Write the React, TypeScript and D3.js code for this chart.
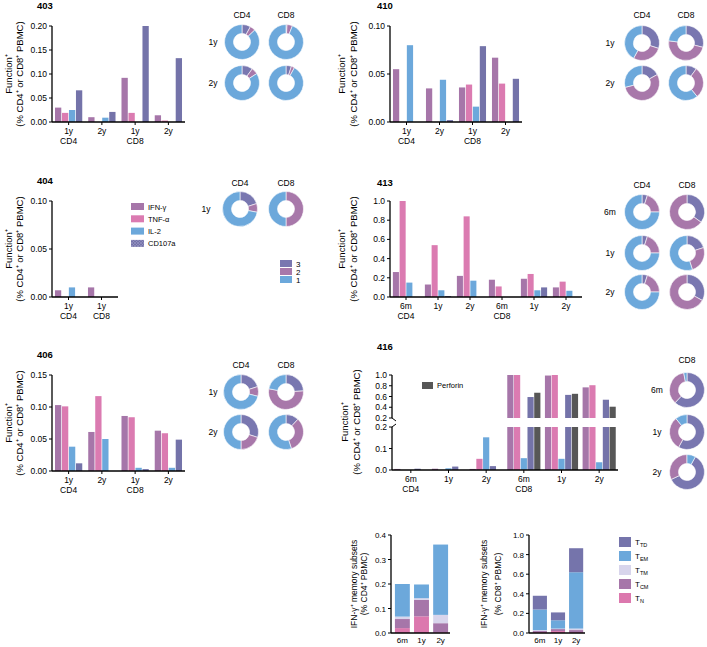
import React from 'react';
import * as d3 from 'd3';

const FONT = '"Liberation Sans", Arial, Helvetica, sans-serif';

// bar series
const seriesNames = ['IFN-γ', 'TNF-α', 'IL-2', 'CD107a'];
const seriesColors = ['#a676a9', '#db7bb1', '#6ca8db', '#7473a9'];
const perforinName = 'Perforin';
const perforinColor = '#575757';

// donut slices (number of functions)
const funcNames = ['3', '2', '1'];
const funcColors = ['#7977b0', '#a878aa', '#6ca8db'];

// patient 403
const p403Times = ['1y', '2y', '1y', '2y'];
const p403Cells = ['CD4', '', 'CD8', ''];
const p403Values = [
  [0.030, 0.019, 0.025, 0.066],
  [0.010, 0.000, 0.009, 0.021],
  [0.092, 0.019, 0.000, 0.200],
  [0.014, 0.003, 0.000, 0.133],
];
const p403PieRows = ['1y', '2y'];
const p403Pies = [
  [[0.08, 0.05, 0.87], [0.01, 0.05, 0.94]],
  [[0.10, 0.06, 0.84], [0.05, 0.03, 0.92]],
];

// patient 410
const p410Times = ['1y', '2y', '1y', '2y'];
const p410Cells = ['CD4', '', 'CD8', ''];
const p410Values = [
  [0.055, 0.000, 0.080, 0.000],
  [0.035, 0.000, 0.044, 0.002],
  [0.036, 0.039, 0.016, 0.079],
  [0.067, 0.040, 0.000, 0.045],
];
const p410PieRows = ['1y', '2y'];
const p410Pies = [
  [[0.30, 0.28, 0.42], [0.29, 0.48, 0.23]],
  [[0.17, 0.54, 0.29], [0.10, 0.29, 0.61]],
];

// patient 404
const p404Times = ['1y', '1y'];
const p404Cells = ['CD4', 'CD8'];
const p404Values = [
  [0.007, 0.000, 0.010, 0.000],
  [0.010, 0.000, 0.000, 0.000],
];
const p404PieRows = ['1y'];
const p404Pies = [[[0.20, 0.08, 0.72], [0.00, 0.50, 0.50]]];

// patient 413
const p413Times = ['6m', '1y', '2y', '6m', '1y', '2y'];
const p413Cells = ['CD4', '', '', 'CD8', '', ''];
const p413Values = [
  [0.26, 1.00, 0.15, 0.00],
  [0.13, 0.54, 0.07, 0.01],
  [0.22, 0.84, 0.17, 0.00],
  [0.18, 0.11, 0.00, 0.00],
  [0.19, 0.24, 0.07, 0.10],
  [0.10, 0.16, 0.065, 0.00],
];
const p413PieRows = ['6m', '1y', '2y'];
const p413Pies = [
  [[0.05, 0.20, 0.75], [0.35, 0.65, 0.00]],
  [[0.05, 0.20, 0.75], [0.20, 0.25, 0.55]],
  [[0.05, 0.20, 0.75], [0.33, 0.67, 0.00]],
];

// patient 406
const p406Times = ['1y', '2y', '1y', '2y'];
const p406Cells = ['CD4', '', 'CD8', ''];
const p406Values = [
  [0.103, 0.101, 0.038, 0.012],
  [0.061, 0.117, 0.050, 0.000],
  [0.086, 0.084, 0.005, 0.003],
  [0.063, 0.059, 0.005, 0.049],
];
const p406PieRows = ['1y', '2y'];
const p406Pies = [
  [[0.20, 0.09, 0.71], [0.24, 0.54, 0.22]],
  [[0.30, 0.20, 0.50], [0.12, 0.33, 0.55]],
];

// patient 416 (with perforin)
const p416Times = ['6m', '1y', '2y', '6m', '1y', '2y'];
const p416Cells = ['CD4', '', '', 'CD8', '', ''];
const p416Values = [
  [0.005, 0.000, 0.000, 0.006, 0.000],
  [0.006, 0.000, 0.008, 0.016, 0.000],
  [0.005, 0.052, 0.152, 0.018, 0.000],
  [1.000, 1.000, 0.055, 0.590, 0.670],
  [0.990, 1.000, 0.052, 0.630, 0.650],
  [0.770, 0.810, 0.036, 0.540, 0.410],
];
const p416PieRows = ['6m', '1y', '2y'];
const p416Pies = [[[0.62, 0.35, 0.03]], [[0.58, 0.31, 0.11]], [[0.60, 0.32, 0.08]]];
const p416PieStart = [0, 0, 0.08];

// memory subsets, bottom to top
const memTimes = ['6m', '1y', '2y'];
const memSubsets = ['N', 'CM', 'TM', 'EM', 'TD'];
const memColors = ['#dc78ae', '#a676a9', '#d8d5ec', '#6ca8db', '#7574ab'];
const memCD4 = [
  [0.020, 0.037, 0.010, 0.133, 0.000],
  [0.068, 0.067, 0.007, 0.056, 0.000],
  [0.003, 0.037, 0.034, 0.287, 0.000],
];
const memCD8 = [
  [0.010, 0.010, 0.010, 0.210, 0.140],
  [0.020, 0.020, 0.005, 0.085, 0.080],
  [0.010, 0.020, 0.015, 0.575, 0.245],
];

function YLabel({ x1, x2, cy, l1, l2, size = 9.5 }) {
  return (
    <g fontSize={size}>
      <text transform={`translate(${x1},${cy}) rotate(-90)`} textAnchor="middle">{l1}</text>
      <text transform={`translate(${x2},${cy}) rotate(-90)`} textAnchor="middle">{l2}</text>
    </g>
  );
}

function BarPanel({ title, titleX, titleY, ax, aend, ytop, ybot, max, nticks, fmt, times, cells, values, colors, lab }) {
  const y = d3.scaleLinear().domain([0, max]).range([ybot, ytop]);
  const gx = d3.scaleBand<number>().domain(d3.range(times.length)).range([ax, aend]).paddingInner(0.18).paddingOuter(0.09);
  const bx = d3.scaleBand<number>().domain(d3.range(colors.length)).range([0, gx.bandwidth()]).paddingInner(0.1);
  const f = d3.format(fmt);
  const cy = (ytop + ybot) / 2;
  return (
    <g>
      <text x={titleX} y={titleY} fontWeight="bold" fontSize={9.5}>{title}</text>
      <YLabel x1={ax + lab[0]} x2={ax + lab[1]} cy={cy} l1="Function⁺" l2="(% CD4⁺ or CD8⁺ PBMC)" />
      {values.map((row, gi) =>
        row.map((v, si) =>
          v > 0 ? (
            <rect key={`${gi}-${si}`} x={gx(gi) + bx(si)} y={y(v)} width={bx.bandwidth()} height={ybot - y(v)} fill={colors[si]} />
          ) : null
        )
      )}
      <line x1={ax} x2={ax} y1={ytop} y2={ybot} stroke="#000" strokeWidth={1.3} />
      <line x1={ax} x2={aend} y1={ybot} y2={ybot} stroke="#000" strokeWidth={1.3} />
      {y.ticks(nticks).map(t => (
        <g key={t}>
          <line x1={ax - 3} x2={ax} y1={y(t)} y2={y(t)} stroke="#000" />
          <text x={ax - 5} y={y(t) + 3} textAnchor="end" fontSize={8.5}>{f(t)}</text>
        </g>
      ))}
      {times.map((t, i) => {
        const cx = gx(i) + gx.bandwidth() / 2;
        return (
          <g key={i} fontSize={8.5} textAnchor="middle">
            <line x1={cx} x2={cx} y1={ybot} y2={ybot + 3} stroke="#000" />
            <text x={cx} y={ybot + 12}>{t}</text>
            {cells[i] ? <text x={cx} y={ybot + 22}>{cells[i]}</text> : null}
          </g>
        );
      })}
    </g>
  );
}

function DonutGrid({ cols, colX, headY, rows, rowY, rowLabX, pies, starts }: any) {
  const arc = d3.arc<any>().innerRadius(8.5).outerRadius(17.5);
  return (
    <g fontSize={8.5}>
      {cols.map((c, i) => (
        <text key={c} x={colX[i]} y={headY} textAnchor="middle">{c}</text>
      ))}
      {rows.map((r, ri) => (
        <g key={ri}>
          <text x={rowLabX} y={rowY[ri] + 3} textAnchor="middle">{r}</text>
          {pies[ri].map((fr, ci) => {
            const s = (starts ? starts[ri] : 0) * Math.PI * 2;
            const arcs = d3.pie<number>().sort(null).startAngle(s).endAngle(s + Math.PI * 2)(fr);
            return (
              <g key={ci} transform={`translate(${colX[ci]},${rowY[ri]})`}>
                {arcs.map((a, k) =>
                  a.data > 0 ? <path key={k} d={arc(a)} fill={funcColors[k]} stroke="#fff" strokeWidth={0.6} /> : null
                )}
              </g>
            );
          })}
        </g>
      ))}
    </g>
  );
}

function BrokenPanel() {
  const ax = 392, aend = 618;
  const yLo = d3.scaleLinear().domain([0, 0.2]).range([470, 427]);
  const yHi = d3.scaleLinear().domain([0.2, 1.0]).range([418, 375]);
  const colors = [...seriesColors, perforinColor];
  const gx = d3.scaleBand<number>().domain(d3.range(p416Times.length)).range([ax, aend]).paddingInner(0.12).paddingOuter(0.06);
  const bx = d3.scaleBand<number>().domain(d3.range(colors.length)).range([0, gx.bandwidth()]).paddingInner(0.08);
  const f = d3.format('.1f');
  return (
    <g>
      <text x={377} y={350} fontWeight="bold" fontSize={9.5}>416</text>
      <YLabel x1={ax - 44} x2={ax - 32} cy={422} l1="Function⁺" l2="(% CD4⁺ or CD8⁺ PBMC)" />
      {p416Values.map((row, gi) =>
        row.map((v, si) => {
          if (v <= 0) return null;
          const x = gx(gi) + bx(si);
          const lo = Math.min(v, 0.2);
          return (
            <g key={`${gi}-${si}`} fill={colors[si]}>
              <rect x={x} y={yLo(lo)} width={bx.bandwidth()} height={470 - yLo(lo)} />
              {v > 0.2 ? <rect x={x} y={yHi(v)} width={bx.bandwidth()} height={418 - yHi(v)} /> : null}
            </g>
          );
        })
      )}
      <line x1={ax} x2={ax} y1={375} y2={418} stroke="#000" strokeWidth={1.3} />
      <line x1={ax} x2={ax} y1={427} y2={470} stroke="#000" strokeWidth={1.3} />
      <line x1={ax} x2={ax + 4} y1={418} y2={421} stroke="#000" strokeWidth={1} />
      <line x1={ax} x2={ax + 4} y1={427} y2={424} stroke="#000" strokeWidth={1} />
      <line x1={ax} x2={aend} y1={470} y2={470} stroke="#000" strokeWidth={1.3} />
      {yHi.ticks(4).map(t => (
        <g key={`h${t}`}>
          <line x1={ax - 3} x2={ax} y1={yHi(t)} y2={yHi(t)} stroke="#000" />
          <text x={ax - 5} y={yHi(t) + 3} textAnchor="end" fontSize={8.5}>{f(t)}</text>
        </g>
      ))}
      {yLo.ticks(2).map(t => (
        <g key={`l${t}`}>
          <line x1={ax - 3} x2={ax} y1={yLo(t)} y2={yLo(t)} stroke="#000" />
          <text x={ax - 5} y={yLo(t) + 3} textAnchor="end" fontSize={8.5}>{f(t)}</text>
        </g>
      ))}
      {p416Times.map((t, i) => {
        const cx = gx(i) + gx.bandwidth() / 2;
        return (
          <g key={i} fontSize={8.5} textAnchor="middle">
            <line x1={cx} x2={cx} y1={470} y2={473} stroke="#000" />
            <text x={cx} y={482}>{t}</text>
            {p416Cells[i] ? <text x={cx} y={492}>{p416Cells[i]}</text> : null}
          </g>
        );
      })}
      <rect x={422} y={382} width={11} height={7} fill={perforinColor} />
      <text x={437} y={388} fontSize={7.5}>{perforinName}</text>
    </g>
  );
}

function StackPanel({ ax, aend, max, values, l1, l2, lab }) {
  const y = d3.scaleLinear().domain([0, max]).range([633, 535]);
  const gx = d3.scaleBand<number>().domain(d3.range(memTimes.length)).range([ax + 2, aend]).paddingInner(0.22).paddingOuter(0.1);
  const keys = d3.range(memSubsets.length);
  const stacked = d3.stack<number[], number>().keys(keys).value((d, k) => d[k])(values);
  const f = d3.format('.1f');
  return (
    <g>
      <YLabel x1={ax + lab[0]} x2={ax + lab[1]} cy={584} l1={l1} l2={l2} size={8.5} />
      {stacked.map((layer, k) =>
        layer.map((d, i) =>
          d[1] - d[0] > 0 ? (
            <rect key={`${k}-${i}`} x={gx(i)} y={y(d[1])} width={gx.bandwidth()} height={y(d[0]) - y(d[1])} fill={memColors[k]} />
          ) : null
        )
      )}
      <line x1={ax} x2={ax} y1={535} y2={633} stroke="#000" strokeWidth={1.3} />
      <line x1={ax} x2={aend} y1={633} y2={633} stroke="#000" strokeWidth={1.3} />
      {y.ticks(5).map(t => (
        <g key={t}>
          <line x1={ax - 3} x2={ax} y1={y(t)} y2={y(t)} stroke="#000" />
          <text x={ax - 5} y={y(t) + 3} textAnchor="end" fontSize={8}>{f(t)}</text>
        </g>
      ))}
      {memTimes.map((t, i) => (
        <text key={t} x={gx(i) + gx.bandwidth() / 2} y={643} textAnchor="middle" fontSize={8}>{t}</text>
      ))}
    </g>
  );
}

export default function App() {
  return (
    <svg width={707} height={647} style={{ position: 'absolute', left: 0, top: 0, background: '#fff' }} fontFamily={FONT}>
      <defs>
        <pattern id="hatch" width="3" height="3" patternUnits="userSpaceOnUse">
          <rect width="3" height="3" fill={seriesColors[3]} />
          <path d="M0,0 L3,3 M3,0 L0,3" stroke="#9a99c6" strokeWidth="0.6" />
        </pattern>
      </defs>

      <BarPanel title="403" titleX={37} titleY={9} ax={52} aend={185} ytop={26} ybot={122} max={0.2} nticks={4} fmt=".2f"
        times={p403Times} cells={p403Cells} values={p403Values} colors={seriesColors} lab={[-40, -29.5]} />
      <DonutGrid cols={['CD4', 'CD8']} colX={[242, 286]} headY={18} rows={p403PieRows} rowY={[42, 83]} rowLabX={213} pies={p403Pies} />

      <BarPanel title="410" titleX={377} titleY={9} ax={390} aend={522} ytop={26} ybot={122} max={0.1} nticks={2} fmt=".2f"
        times={p410Times} cells={p410Cells} values={p410Values} colors={seriesColors} lab={[-45, -33]} />
      <DonutGrid cols={['CD4', 'CD8']} colX={[642, 686]} headY={18} rows={p410PieRows} rowY={[43, 83]} rowLabX={610} pies={p410Pies} />

      <BarPanel title="404" titleX={37} titleY={184} ax={52} aend={118} ytop={201} ybot={297} max={0.1} nticks={2} fmt=".2f"
        times={p404Times} cells={p404Cells} values={p404Values} colors={seriesColors} lab={[-40, -29.5]} />
      <DonutGrid cols={['CD4', 'CD8']} colX={[240, 286]} headY={186} rows={p404PieRows} rowY={[209]} rowLabX={206} pies={p404Pies} />

      <g fontSize={7.5}>
        {seriesNames.map((n, i) => (
          <g key={n}>
            <rect x={131} y={203 + i * 12.3} width={13} height={7} fill={i === 3 ? 'url(#hatch)' : seriesColors[i]} />
            <text x={148} y={209.5 + i * 12.3}>{n}</text>
          </g>
        ))}
        {funcNames.map((n, i) => (
          <g key={n}>
            <rect x={280} y={260 + i * 8} width={12} height={7} fill={funcColors[i]} />
            <text x={296} y={266.5 + i * 8} fontSize={8}>{n}</text>
          </g>
        ))}
      </g>

      <BarPanel title="413" titleX={377} titleY={186} ax={390} aend={582} ytop={201} ybot={297} max={1.0} nticks={5} fmt=".1f"
        times={p413Times} cells={p413Cells} values={p413Values} colors={seriesColors} lab={[-45, -33]} />
      <DonutGrid cols={['CD4', 'CD8']} colX={[642, 687]} headY={188} rows={p413PieRows} rowY={[212, 253, 292]} rowLabX={610} pies={p413Pies} />

      <BarPanel title="406" titleX={37} titleY={358} ax={52} aend={185} ytop={375} ybot={471} max={0.15} nticks={3} fmt=".2f"
        times={p406Times} cells={p406Cells} values={p406Values} colors={seriesColors} lab={[-40, -29.5]} />
      <DonutGrid cols={['CD4', 'CD8']} colX={[241, 286]} headY={368} rows={p406PieRows} rowY={[392, 432]} rowLabX={213} pies={p406Pies} />

      <BrokenPanel />
      <DonutGrid cols={['CD8']} colX={[687]} headY={363} rows={p416PieRows} rowY={[390, 432, 472]} rowLabX={657} pies={p416Pies} starts={p416PieStart} />

      <StackPanel ax={391} aend={450} max={0.4} values={memCD4} l1="IFN-γ⁺ memory subsets" l2="(% CD4⁺ PBMC)" lab={[-34, -24]} />
      <StackPanel ax={529} aend={585} max={1.0} values={memCD8} l1="IFN-γ⁺ memory subsets" l2="(% CD8⁺ PBMC)" lab={[-42, -28]} />

      <g fontSize={8}>
        {memSubsets.slice().reverse().map((s, i) => (
          <g key={s}>
            <rect x={619} y={537 + i * 14} width={12} height={10} fill={memColors[memSubsets.length - 1 - i]} />
            <text x={635} y={545 + i * 14}>T<tspan fontSize={5.5} dy={2}>{s}</tspan></text>
          </g>
        ))}
      </g>
    </svg>
  );
}
